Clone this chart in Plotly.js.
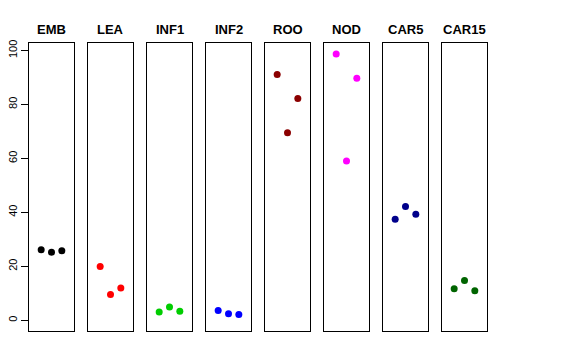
<!DOCTYPE html>
<html><head><meta charset="utf-8">
<script src="https://cdn.plot.ly/plotly-3.0.1.min.js"></script>
<style>body{margin:0;padding:0;background:#fff}#plot{width:576px;height:360px}</style>
</head><body><div id="plot"></div>
<script>
const categories = ["EMB","LEA","INF1","INF2","ROO","NOD","CAR5","CAR15"];
const colors = ["#000000","#FF0000","#00CD00","#0000FF","#8B0000","#FF00FF","#00008B","#006400"];
const reps = [1,2,3];
const EMB = [26.1,25.2,25.8];
const LEA = [19.9,9.5,11.9];
const INF1 = [3.0,4.9,3.3];
const INF2 = [3.6,2.4,2.1];
const ROO = [91.1,69.5,82.2];
const NOD = [98.7,59.0,89.7];
const CAR5 = [37.4,42.2,39.3];
const CAR15 = [11.7,14.7,10.9];
const yTicks = [0,20,40,60,80,100];
const series = [EMB,LEA,INF1,INF2,ROO,NOD,CAR5,CAR15];

const W = 459, step = 59, pw = 45;
const traces = [], layout = {
  width:576, height:360,
  margin:{l:29, r:88, t:43, b:29},
  showlegend:false, paper_bgcolor:'#fff', plot_bgcolor:'#fff',
  font:{family:'Liberation Sans, Arial, sans-serif', color:'#000'},
  annotations:[]
};
series.forEach((vals,i)=>{
  const k = i===0 ? '' : String(i+1);
  traces.push({x:reps, y:vals, type:'scatter', mode:'markers',
    xaxis:'x'+k, yaxis:'y'+k,
    marker:{color:colors[i], size:7}, hoverinfo:'skip'});
  layout['xaxis'+k] = {domain:[i*step/W, (i*step+pw)/W], range:[-0.18,4.18],
    anchor:'y'+k, showline:true, mirror:true, linecolor:'#000', linewidth:1,
    showgrid:false, zeroline:false, showticklabels:false, ticks:''};
  const ya = {range:[-4,102.8], anchor:'x'+k, showline:true, mirror:true,
    linecolor:'#000', linewidth:1, showgrid:false, zeroline:false};
  if(i===0){
    Object.assign(ya,{tickvals:yTicks, ticktext:yTicks.map(String), ticks:'outside', ticklen:7,
      tickcolor:'#000', tickwidth:1, tickangle:-90, tickfont:{size:11, color:'#000'}});
  } else {
    Object.assign(ya,{showticklabels:false, ticks:''});
  }
  layout['yaxis'+k] = ya;
  layout.annotations.push({text:'<b>'+categories[i]+'</b>', xref:'x'+k+' domain', x:0.5,
    yref:'paper', y:1, yanchor:'bottom', yshift:4, showarrow:false,
    font:{size:13, color:'#000'}});
});
Plotly.newPlot('plot', traces, layout, {staticPlot:true});
</script></body></html>
